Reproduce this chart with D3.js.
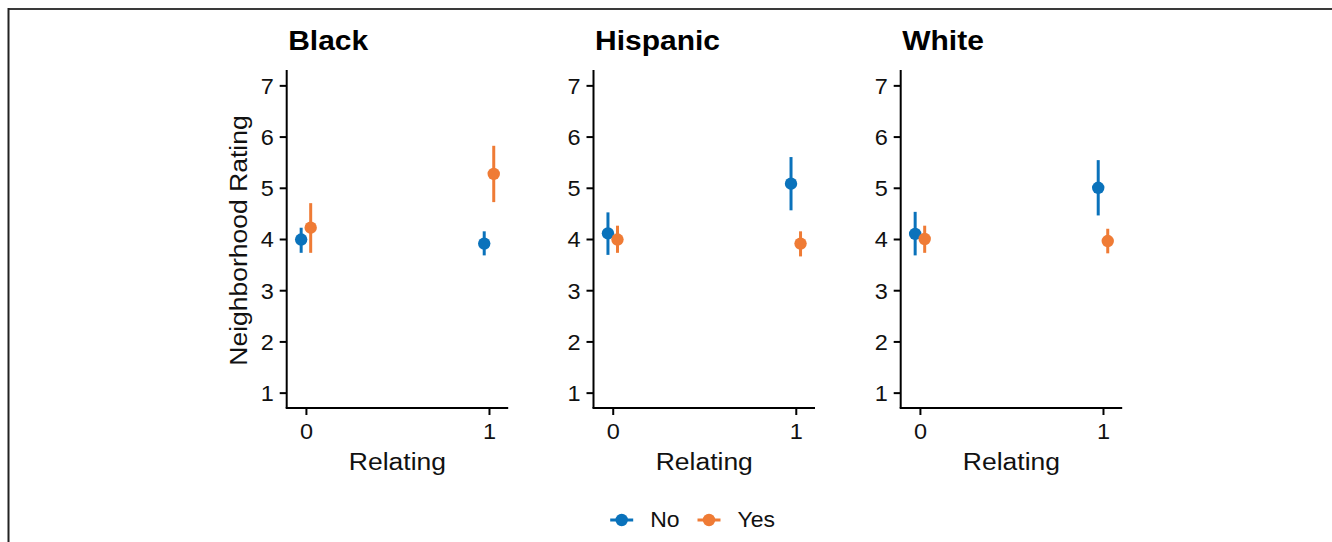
<!DOCTYPE html>
<html><head><meta charset="utf-8">
<script src="https://cdn.jsdelivr.net/npm/d3@7"></script>
<style>body{margin:0;background:#fff;} svg{display:block;font-family:"Liberation Sans",Arial,sans-serif;}</style>
</head><body><svg id="c" width="1332" height="542"></svg>
<script>
const panels = ["Black","Hispanic","White"];
const groups = ["No","Yes"];
const relating = [0,1];
// mean, lower, upper per panel, group, relating
const noMean  = [[3.99,3.91],[4.11,5.08],[4.10,5.00]];
const noLow   = [[3.73,3.68],[3.69,4.56],[3.68,4.46]];
const noHigh  = [[4.22,4.15],[4.52,5.60],[4.53,5.54]];
const yesMean = [[4.22,5.27],[3.99,3.91],[4.00,3.96]];
const yesLow  = [[3.73,4.72],[3.73,3.66],[3.73,3.72]];
const yesHigh = [[4.70,5.82],[4.26,4.15],[4.26,4.20]];
const yTicks = [1,2,3,4,5,6,7];
const xTicks = [0,1];
const colors = {No:"#0a72bb", Yes:"#ef7b35"};

const FONT = "Liberation Sans, Arial, sans-serif";
const svg = d3.select("#c");
// frame lines (top and left)
svg.append("line").attr("x1",8).attr("x2",1332).attr("y1",9).attr("y2",9).attr("stroke","#3a3a3a").attr("stroke-width",2);
svg.append("line").attr("x1",8.5).attr("x2",8.5).attr("y1",8).attr("y2",542).attr("stroke","#222").attr("stroke-width",2);

const panelLeft = [286.7, 593.5, 900.7];
const pw = 221.5, plotTop = 70, plotBottom = 408;
const y = d3.scaleLinear().domain([0.7,7.3]).range([plotBottom, plotTop]);
const dodge = 0.026;
const tickFont = 23.5, tickSY = 0.95;

const series = {No:{m:noMean,l:noLow,h:noHigh,off:-dodge}, Yes:{m:yesMean,l:yesLow,h:yesHigh,off:dodge}};

function sText(parent, x, yy, txt, size, sy, opts={}){
  const t = parent.append("text")
    .attr("transform",`translate(${x},${yy})${opts.rotate?` rotate(${opts.rotate})`:""} scale(1,${sy})`)
    .attr("font-size",size).attr("font-family",FONT).attr("fill",opts.fill||"#111")
    .attr("text-anchor",opts.anchor||"start").text(txt);
  if(opts.bold) t.attr("font-weight","bold");
  return t;
}

panels.forEach((name,pi)=>{
  const x0 = panelLeft[pi];
  const x = d3.scaleLinear().domain([-0.105,1.105]).range([x0, x0+pw]);
  const g = svg.append("g");
  sText(g, x0+1.5, 50, name, 30, 0.93, {bold:true, fill:"#000"});
  // y axis
  const ya = g.append("g").attr("transform",`translate(${x0},0)`).call(d3.axisLeft(y).tickValues(yTicks).tickSize(7).tickFormat(d3.format("d")));
  ya.select(".domain").attr("d",`M0,${plotTop}V${plotBottom}`).attr("stroke","#000").attr("stroke-width",2);
  ya.selectAll(".tick line").attr("stroke","#000").attr("stroke-width",2);
  ya.selectAll(".tick text")
    .attr("x",null).attr("dy",null).attr("y",null)
    .attr("transform",`translate(-13,${tickFont*0.716*tickSY/2}) scale(1,${tickSY})`)
    .attr("font-size",tickFont).attr("fill","#111").attr("font-family",FONT);
  // x axis
  const xa = g.append("g").attr("transform",`translate(0,${plotBottom})`).call(d3.axisBottom(x).tickValues(xTicks).tickSize(7).tickFormat(d3.format("d")));
  xa.select(".domain").attr("d",`M${x0-1},0H${x0+pw}`).attr("stroke","#000").attr("stroke-width",2);
  xa.selectAll(".tick line").attr("stroke","#000").attr("stroke-width",2);
  xa.selectAll(".tick text")
    .attr("y",null).attr("dy",null)
    .attr("transform",`translate(0,30.5) scale(1,${tickSY})`)
    .attr("font-size",tickFont).attr("fill","#111").attr("font-family",FONT);
  // x label
  sText(g, x0+pw/2, 469.5, "Relating", 26.5, 0.93, {anchor:"middle"});
  if(pi===0){
    sText(g, 247, 240.5, "Neighborhood Rating", 26.5, 0.93, {anchor:"middle", rotate:-90});
  }
  groups.forEach(gr=>{
    const s = series[gr];
    relating.forEach((r,ri)=>{
      const cx = x(r + s.off);
      g.append("line").attr("x1",cx).attr("x2",cx).attr("y1",y(s.l[pi][ri])).attr("y2",y(s.h[pi][ri])).attr("stroke",colors[gr]).attr("stroke-width",3);
      g.append("circle").attr("cx",cx).attr("cy",y(s.m[pi][ri])).attr("r",6.2).attr("fill",colors[gr]);
    });
  });
});

// legend
const legX = [621.7, 709];
groups.forEach((gr,i)=>{
  const lg = svg.append("g").attr("transform",`translate(${legX[i]},520)`);
  lg.append("line").attr("x1",-11.5).attr("x2",11.5).attr("stroke",colors[gr]).attr("stroke-width",3);
  lg.append("circle").attr("r",6.2).attr("fill",colors[gr]);
  sText(lg, 28.5, 7.3, gr, 23, 0.95);
});
</script></body></html>
